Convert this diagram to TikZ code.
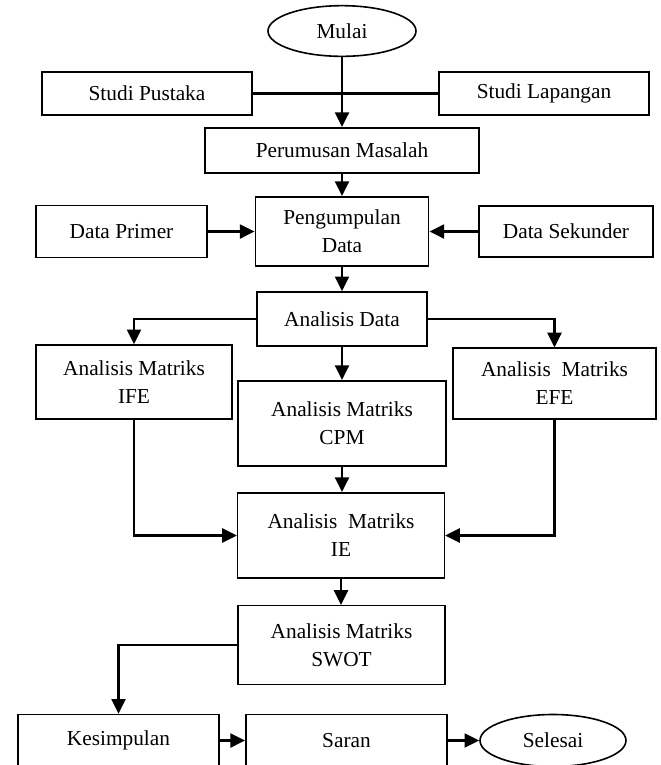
\documentclass[tikz,border=0pt]{standalone}
\usepackage{fontspec}
\setmainfont{Liberation Serif}
\usepackage{tikz}
\usetikzlibrary{shapes.geometric, arrows.meta, positioning}
\tikzstyle{arrow} = [line width=1.7pt,-{Triangle[length=11pt,width=10.5pt]}]
\tikzstyle{line} = [line width=1.7pt]

\begin{document}
\begin{tikzpicture}[
    x=0.75pt, y=-0.75pt,
    font=\fontsize{16}{21}\selectfont,
    box/.style  = {rectangle, draw=black, line width=1.2pt, text centered, align=center, inner sep=2pt, fill=white},
    term/.style = {ellipse, draw=black, line width=1.2pt, inner sep=0pt, fill=white},
]
\useasboundingbox (0,0) rectangle (661,765);

% ---- start and literature / field study ----
\node[term] (mulai)    at (342,31)   [minimum width=111pt, minimum height=38pt] {Mulai};
\node[box]  (pustaka)  at (147,93.5) [minimum width=157.5pt, minimum height=32pt] {Studi Pustaka};
\node[box]  (lapangan) at (544,93.5) [minimum width=157.5pt, minimum height=32pt] {Studi Lapangan};
\node[box]  (rumusan)  at (342,150.5) [minimum width=205.5pt, minimum height=34pt] {Perumusan Masalah};

% ---- data collection row ----
\node[box]  (kumpul)   at (342,231.5) [minimum width=130pt, minimum height=52pt] {Pengumpulan\\Data};
\node[box]  (primer)   at (121.5,231.5) [minimum width=128pt, minimum height=39pt] {Data Primer};
\node[box]  (sekunder) at (566,231.5) [minimum width=130.5pt, minimum height=38pt] {Data Sekunder};
\node[box]  (analisis) at (342,319)   [minimum width=127.5pt, minimum height=40.5pt] {Analisis Data};

% ---- matrix analyses ----
\node[box]  (ife)  at (134,382)    [minimum width=147pt, minimum height=55.5pt] {Analisis Matriks\\IFE};
\node[box]  (efe)  at (554.5,383.5) [minimum width=152pt, minimum height=53pt] {Analisis~ Matriks\\EFE};
\node[box]  (cpm)  at (342,423.5)  [minimum width=156pt, minimum height=64pt] {Analisis Matriks\\CPM};
\node[box]  (ie)   at (341,535.5)  [minimum width=155pt, minimum height=64pt] {Analisis~ Matriks\\IE};
\node[box]  (swot) at (341.5,645)  [minimum width=155pt, minimum height=59pt] {Analisis Matriks\\SWOT};

% ---- bottom row ----
\node[box]  (simpul)  at (118.5,740.5) [minimum width=151pt, minimum height=39pt] {Kesimpulan};
\node[box]  (saran)   at (346.5,740.5) [minimum width=151pt, minimum height=39pt] {Saran};
\node[term] (selesai) at (553,740.5)   [minimum width=109.5pt, minimum height=39pt] {Selesai};

% ---- top flow ----
\draw[line]  (pustaka) -- (lapangan);
\draw[arrow] (mulai.south) -- (mulai.south |- rumusan.north);
\draw[arrow] (rumusan) -- (kumpul);
\draw[arrow] (primer) -- (kumpul);
\draw[arrow] (sekunder) -- (kumpul);
\draw[arrow] (kumpul) -- (analisis);

% ---- branches into the matrices ----
\draw[arrow] (analisis.west) -| (ife.north);
\draw[arrow] (analisis.east) -| (efe.north);
\draw[arrow] (analisis) -- (cpm);
\draw[arrow] (cpm.south) -- (cpm.south |- ie.north);
\draw[arrow] (ife.south) |- (ie.west);
\draw[arrow] (efe.south) |- (ie.east);
\draw[arrow] (ie.south) -- (ie.south |- swot.north);

% ---- conclusion ----
\draw[arrow] (swot.west) -| (simpul.north);
\draw[arrow] (simpul) -- (saran);
\draw[arrow] (saran) -- (selesai);

\end{tikzpicture}
\end{document}
